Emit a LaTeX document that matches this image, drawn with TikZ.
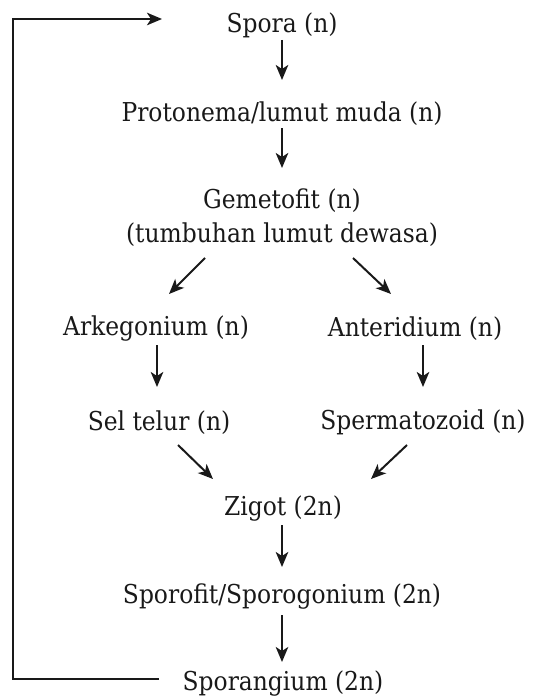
\documentclass[tikz,border=0pt]{standalone}
\usepackage{fontspec}
\setmainfont{DejaVu Serif Condensed}
\usetikzlibrary{arrows.meta}
\begin{document}
\begin{tikzpicture}[x=1pt,y=-1pt,
  stage/.style={inner sep=0pt, font=\fontsize{26}{34}\selectfont, text=black!90, align=center},
  flow/.style={line width=2pt, draw=black!90, -{Stealth[length=15pt,width=12.5pt,inset=4pt]}}]
  \useasboundingbox (0,0) rectangle (542,698);
  % stages of the moss life cycle
  \node[stage] (spora)  at (282,25.5)  {Spora (n)};
  \node[stage] (proto)  at (282,113.5) {Protonema/lumut muda (n)};
  \node[stage] (game)   at (282,217.5) {Gemetofit (n)\\(tumbuhan lumut dewasa)};
  \node[stage] (arke)   at (156,328.5) {Arkegonium (n)};
  \node[stage] (anter)  at (415,328.5) {Anteridium (n)};
  \node[stage] (sel)    at (159,422.5) {Sel telur (n)};
  \node[stage] (sperm)  at (423,422.5) {Spermatozoid (n)};
  \node[stage] (zigot)  at (283,508.5) {Zigot (2n)};
  \node[stage] (sporo)  at (282,596.5) {Sporofit/Sporogonium (2n)};
  \node[stage] (sgium)  at (283,684)   {Sporangium (2n)};
  % arrow end points
  \coordinate (a1) at (282,40);  \coordinate (a2) at (282,80);
  \coordinate (b1) at (282,128); \coordinate (b2) at (282,168);
  \coordinate (c1) at (205,258); \coordinate (c2) at (169,294);
  \coordinate (d1) at (353,258); \coordinate (d2) at (391,294);
  \coordinate (e1) at (157,345); \coordinate (e2) at (157,387);
  \coordinate (f1) at (423,345); \coordinate (f2) at (423,387);
  \coordinate (g1) at (178,445); \coordinate (g2) at (213,479);
  \coordinate (h1) at (407,445); \coordinate (h2) at (371,479);
  \coordinate (i1) at (282,525); \coordinate (i2) at (282,567);
  \coordinate (j1) at (282,615); \coordinate (j2) at (282,662);
  \coordinate (loopstart) at (159,679);
  \coordinate (loopend)   at (162,19);
  \draw[flow] (a1) -- (a2);
  \draw[flow] (b1) -- (b2);
  \draw[flow] (c1) -- (c2);
  \draw[flow] (d1) -- (d2);
  \draw[flow] (e1) -- (e2);
  \draw[flow] (f1) -- (f2);
  \draw[flow] (g1) -- (g2);
  \draw[flow] (h1) -- (h2);
  \draw[flow] (i1) -- (i2);
  \draw[flow] (j1) -- (j2);
  % return path from sporangium back to spores
  \draw[flow] (loopstart) -- (13,679) -- (13,19) -- (loopend);
\end{tikzpicture}
\end{document}
